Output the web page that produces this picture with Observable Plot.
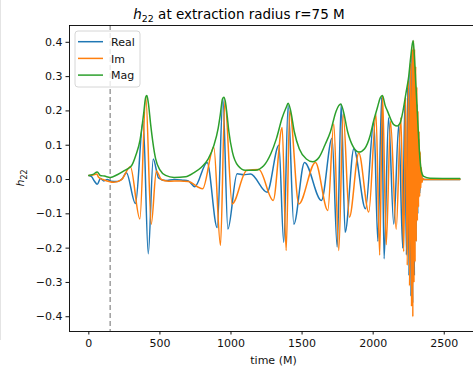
<!DOCTYPE html>
<html>
<head>
<meta charset="utf-8">
<script src="https://cdn.jsdelivr.net/npm/d3@7"></script>
<script src="https://cdn.jsdelivr.net/npm/@observablehq/plot@0.6"></script>
<style>
  html, body { margin: 0; padding: 0; background: #fff; }
  body { width: 473px; height: 367px; overflow: hidden; font-family: "DejaVu Sans", sans-serif; color: #000; }
  #wrap { position: relative; width: 478px; }
  #title { height: 20px; box-sizing: border-box; padding-top: 6px; line-height: 16px; font-size: 13.5px; text-align: center; white-space: nowrap; }
  #title sub { font-size: 0.7em; vertical-align: -0.3em; line-height: 0; }
  #chart svg { display: block; overflow: hidden; }
  #edge { position: absolute; left: 0; top: 0; width: 1px; height: 340px; background: #e4e4e4; }
</style>
</head>
<body>
<div id="wrap">
  <div id="title"><i>h</i><sub>22</sub> at extraction radius r=75 M</div>
  <div id="chart"></div>
  <div id="edge"></div>
</div>
<script>
// ---- data: [time (M), value] ----
const realSeries = [[0,0.012],[20,0.008],[40,-0.005],[59,-0.014],[82,0.003],[106,-0.004],[130,0.0],[155,-0.005],[200,-0.006],[235,0.002],
  [264,0.02],[328,-0.07],[382,0.17],[418,-0.216],[453,0.06],[490,0.005],[540,-0.003],[600,0.0],[660,-0.002],[700,-0.004],
  [745,-0.021],[832,0.05],[903,-0.14],[943,0.235],[978,-0.144],[1043,0.017],[1090,0.014],[1137,0.016],[1254,-0.037],[1337,0.1],
  [1371,-0.183],[1402,0.216],[1442,-0.13],[1517,0.05],[1636,-0.061],[1711,0.12],[1747,-0.197],[1775,0.219],[1803,-0.154],[1864,0.09],
  [1946,-0.085],[2005,0.17],[2033,-0.18],[2060,0.24],[2077,-0.231],[2108,0.18],[2145,-0.13],[2180,0.16],[2208,-0.2],[2222,0.22],
  [2234,-0.22],[2243,0.27],[2252,-0.28],[2259,0.32],[2266,-0.34],[2272,0.37],[2278,-0.36],[2284,0.38],[2290,-0.28],[2296,0.3],
  [2302,-0.18],[2308,0.22],[2314,-0.1],[2320,0.12],[2328,-0.04],[2336,0.03],[2345,0],[2610,0]];

const imSeries = [[0,0.012],[30,0.013],[55,0.016],[70,0.006],[100,0.0],[176,-0.008],[230,0.0],[292,0.037],[359,-0.115],[401,0.24],
  [439,-0.13],[475,0.025],[510,0.0],[560,-0.005],[640,-0.004],[700,-0.006],[800,-0.027],[879,0.094],[926,-0.192],[957,0.23],
  [1008,-0.071],[1110,0.026],[1196,0.029],[1297,-0.061],[1360,0.152],[1388,-0.207],[1413,0.2],[1477,-0.071],[1594,0.05],[1681,-0.09],
  [1723,0.162],[1758,-0.207],[1789,0.19],[1833,-0.11],[1899,0.077],[1969,-0.095],[2020,0.19],[2046,-0.22],[2066,0.245],[2092,-0.19],
  [2122,0.17],[2162,-0.145],[2195,0.18],[2215,-0.21],[2228,0.24],[2240,-0.25],[2248,0.29],[2256,-0.31],[2263,0.34],[2270,-0.37],
  [2275,0.38],[2279,-0.4],[2283,0.405],[2287,-0.3],[2291,0.38],[2295,-0.24],[2299,0.33],[2303,-0.18],[2307,0.27],[2311,-0.12],
  [2315,0.2],[2319,-0.08],[2323,0.14],[2327,-0.05],[2331,0.08],[2335,-0.025],[2339,0.035],[2344,-0.008],[2350,0.003],[2360,0],[2610,0]];

const magSeries = [[0,0.012],[30,0.015],[59,0.022],[80,0.012],[110,0.01],[150,0.006],[200,0.014],[250,0.026],[300,0.04],[330,0.07],
  [360,0.115],[385,0.19],[400,0.24],[408,0.245],[418,0.225],[435,0.16],[450,0.11],[470,0.06],[500,0.028],[540,0.012],
  [600,0.006],[680,0.008],[740,0.02],[790,0.035],[840,0.06],[880,0.1],[910,0.15],[925,0.19],[940,0.235],[950,0.24],
  [960,0.228],[972,0.19],[985,0.14],[1010,0.08],[1050,0.04],[1100,0.027],[1170,0.027],[1230,0.04],[1280,0.075],[1320,0.12],
  [1360,0.18],[1388,0.21],[1402,0.222],[1420,0.2],[1445,0.14],[1480,0.09],[1530,0.06],[1575,0.052],[1620,0.065],[1660,0.1],
  [1700,0.14],[1740,0.2],[1772,0.22],[1790,0.2],[1820,0.14],[1860,0.095],[1900,0.08],[1940,0.09],[1980,0.13],[2004,0.172],
  [2030,0.21],[2050,0.238],[2065,0.245],[2085,0.215],[2100,0.2],[2145,0.16],[2170,0.156],[2190,0.165],[2210,0.2],[2230,0.25],
  [2250,0.3],[2265,0.36],[2281,0.405],[2290,0.36],[2300,0.28],[2310,0.2],[2320,0.12],[2330,0.055],[2340,0.022],[2355,0.009],
  [2400,0.004],[2610,0.003]];

const seriesNames = ["Real", "Im", "Mag"];
const seriesColors = ["#1f77b4", "#ff7f0e", "#2ca02c"];
const extractionTime = [150];
const xTicks = [0, 500, 1000, 1500, 2000, 2500];
const yTicks = [-0.4, -0.3, -0.2, -0.1, 0.0, 0.1, 0.2, 0.3, 0.4];
const xLabel = "time (M)";

const toRows = (arr) => arr.map(([t, v]) => ({t, v}));
const lineOpts = (color) => ({x: "t", y: "v", stroke: color, strokeWidth: 1.5, curve: "monotone-x"});

const W = 478, H = 347, mL = 69, mR = 0, mT = 5, mB = 36;

const plot = Plot.plot({
  width: W, height: H,
  marginLeft: mL, marginRight: mR, marginTop: mT, marginBottom: mB,
  style: {fontFamily: "DejaVu Sans", fontSize: "11px", color: "#111", background: "#fff"},
  x: {domain: [-136, 2741]},
  y: {domain: [-0.443, 0.449]},
  marks: [
    Plot.ruleX(extractionTime, {stroke: "#8f8f8f", strokeWidth: 1.3, strokeDasharray: "5,3"}),
    Plot.line(toRows(realSeries), lineOpts(seriesColors[0])),
    Plot.line(toRows(imSeries), lineOpts(seriesColors[1])),
    Plot.line(toRows(magSeries), lineOpts(seriesColors[2])),
    Plot.frame({stroke: "#000", strokeWidth: 0.9}),
    Plot.axisX({ticks: xTicks, tickSize: 3.5, tickPadding: 4, tickFormat: d => String(d), label: null}),
    Plot.axisY({ticks: yTicks, tickSize: 3.5, tickPadding: 3.5, tickFormat: d3.format(".1f"), label: null})
  ]
});
document.getElementById("chart").appendChild(plot);

const svg = d3.select(plot);
// x label
svg.append("text")
  .attr("x", (mL + W - mR) / 2).attr("y", 344)
  .attr("text-anchor", "middle")
  .attr("font-family", "DejaVu Sans").attr("font-size", 11).attr("fill", "#111")
  .text(xLabel);
// y label with italic h and subscript 22
const yl = svg.append("text")
  .attr("transform", "translate(24,158) rotate(-90)")
  .attr("text-anchor", "middle")
  .attr("font-family", "DejaVu Sans").attr("font-size", 11).attr("fill", "#111");
yl.append("tspan").attr("font-style", "italic").text("h");
yl.append("tspan").attr("font-size", 8).attr("dy", 2.5).text("22");

// legend
const lg = svg.append("g").attr("text-anchor", "start");
lg.append("rect").attr("x", 75).attr("y", 11).attr("width", 65).attr("height", 56)
  .attr("rx", 3).attr("fill", "#fff").attr("fill-opacity", 0.8).attr("stroke", "#d6d6d6").attr("stroke-width", 1);
seriesNames.forEach((name, i) => {
  const yy = 21.7 + i * 16.7;
  lg.append("line").attr("x1", 78).attr("x2", 103).attr("y1", yy).attr("y2", yy)
    .attr("stroke", seriesColors[i]).attr("stroke-width", 1.5);
  lg.append("text").attr("x", 111).attr("y", yy + 4.2).attr("text-anchor", "start")
    .attr("font-family", "DejaVu Sans").attr("font-size", 11).attr("fill", "#111").text(name);
});
</script>
</body>
</html>
